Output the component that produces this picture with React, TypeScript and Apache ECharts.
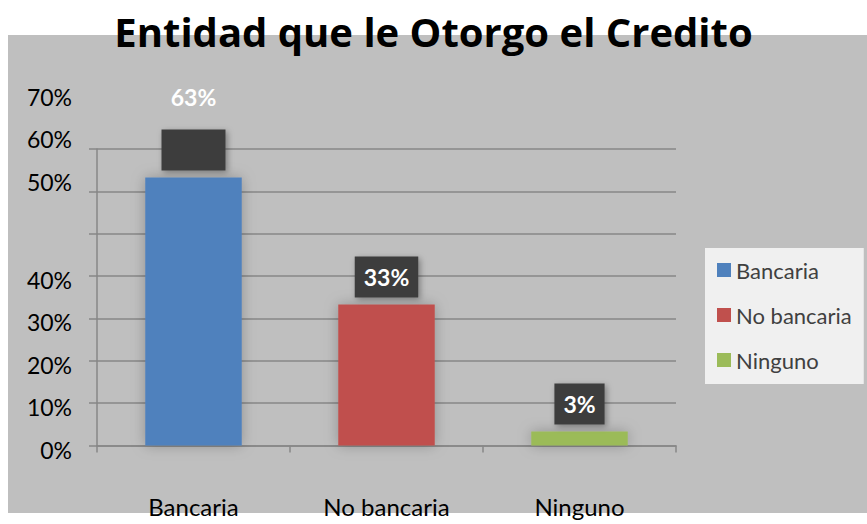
import React, { useEffect, useRef } from "react";
import * as echarts from "echarts";

const categories = ["Bancaria", "No bancaria", "Ninguno"];
const values = [63.3, 33.3, 3.3];
const colors = ["#4f81bd", "#c0504d", "#9bbb59"];
const yTicks = [0, 10, 20, 30, 40, 50, 60, 70];
const titleText = "Entidad que le Otorgo el Credito";

const FONT = "Lato";

export default function App() {
  const ref = useRef<HTMLDivElement>(null);
  useEffect(() => {
    if (!ref.current) return;
    const chart = echarts.init(ref.current, null, { renderer: "svg" });
    const series = categories.map((name, i) => ({
      name,
      type: "bar",
      stack: "all",
      barWidth: "50%",
      itemStyle: {
        color: colors[i],
        shadowColor: "rgba(0,0,0,0.25)",
        shadowBlur: 14,
      },
      label: {
        show: true,
        position: "top",
        distance: 7,
        formatter: (p: any) =>
          i === 0
            ? `{up|${Math.round(p.value)}%}\n{blank|}`
            : `{box|${Math.round(p.value)}%}`,
        rich: {
          up: {
            color: "#ffffff",
            fontFamily: FONT,
            fontWeight: "bold",
            fontSize: 23,
            lineHeight: 64,
            align: "center",
          },
          blank: {
            width: 64,
            height: 41,
            backgroundColor: "#3d3d3d",
            shadowColor: "rgba(0,0,0,0.35)",
            shadowBlur: 6,
            shadowOffsetX: 2,
            shadowOffsetY: 2,
          },
          box: {
            color: "#ffffff",
            fontFamily: FONT,
            fontWeight: "bold",
            fontSize: 23,
            height: 41,
            padding: [0, 9, 0, 9],
            align: "center",
            backgroundColor: "#3d3d3d",
            shadowColor: "rgba(0,0,0,0.35)",
            shadowBlur: 6,
            shadowOffsetX: 2,
            shadowOffsetY: 2,
          },
        },
      },
      data: categories.map((_, j) => (j === i ? values[i] : "-")),
    }));

    chart.setOption({
      animation: false,
      backgroundColor: "#ffffff",
      textStyle: { fontFamily: FONT },
      graphic: [
        {
          type: "rect",
          z: -10,
          shape: { x: 8, y: 35, width: 859, height: 478 },
          style: { fill: "#bfbfbf" },
          silent: true,
        },
      ],
      title: {
        text: titleText,
        left: "center",
        top: 6,
        textStyle: {
          fontFamily: "Open Sans",
          fontWeight: "bold",
          fontSize: 40,
          color: "#000000",
        },
      },
      legend: {
        orient: "vertical",
        left: 705,
        top: 248,
        backgroundColor: "#f0f0f0",
        padding: [11, 12, 13, 12],
        itemWidth: 14,
        itemHeight: 14,
        itemGap: 23,
        icon: "rect",
        textStyle: { fontFamily: FONT, fontSize: 22, color: "#404040" },
        data: categories,
      },
      grid: { left: 97, right: 191, top: 149, bottom: 78.5 },
      xAxis: {
        type: "category",
        data: categories,
        axisLine: { lineStyle: { color: "#878787", width: 1.5 } },
        axisTick: { show: true, length: 7, lineStyle: { color: "#878787", width: 1.5 } },
        axisLabel: { margin: 49, fontFamily: FONT, fontSize: 24, color: "#000000" },
      },
      yAxis: {
        type: "value",
        min: yTicks[0],
        max: yTicks[yTicks.length - 1],
        interval: 10,
        axisLine: { show: true, lineStyle: { color: "#878787", width: 1.5 } },
        axisTick: { show: true, length: 8, lineStyle: { color: "#878787", width: 1.5 } },
        splitLine: { lineStyle: { color: "#878787", width: 1.5 } },
        axisLabel: {
          margin: 25,
          formatter: (v: number) => (v >= 50 ? `{hi|${v}%}` : `{lo|${v}%}`),
          rich: {
            hi: { fontFamily: FONT, fontSize: 23, color: "#000", padding: [0, 0, 104, 0] },
            lo: { fontFamily: FONT, fontSize: 23, color: "#000", padding: [8, 0, 0, 0] },
          },
        },
      },
      series,
    });
    return () => chart.dispose();
  }, []);
  return (
    <div
      ref={ref}
      style={{ position: "fixed", left: 0, top: 0, width: 867, height: 524 }}
    />
  );
}
